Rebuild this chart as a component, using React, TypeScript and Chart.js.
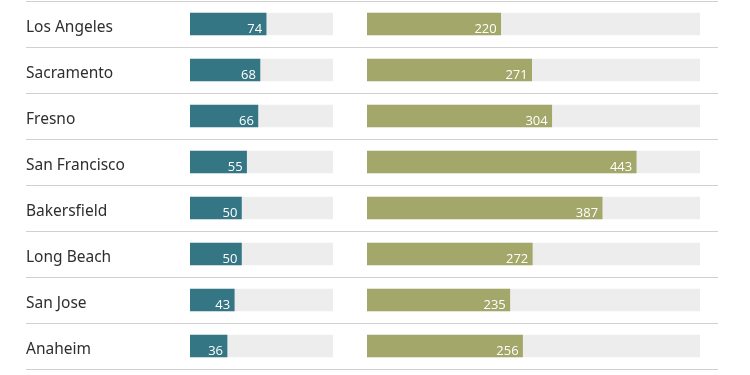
import React, { useEffect, useRef } from "react";
import { Chart, registerables } from "chart.js";

Chart.register(...registerables);

const cities = ["Los Angeles", "Sacramento", "Fresno", "San Francisco", "Bakersfield", "Long Beach", "San Jose", "Anaheim"];
const leftValues = [74, 68, 66, 55, 50, 50, 43, 36];
const rightValues = [220, 271, 304, 443, 387, 272, 235, 256];
const LEFT_MAX = 139;
const RIGHT_MAX = 548;

const TEAL = "#357685";
const OLIVE = "#a3a86a";
const TRACK = "#ededed";
const LINE = "#d0d0d0";

const valueLabels = (values: number[], font: string) => ({
  id: "valueLabels",
  afterDatasetsDraw(chart: any) {
    const ctx = chart.ctx;
    const meta = chart.getDatasetMeta(1);
    ctx.save();
    ctx.fillStyle = "#ffffff";
    ctx.font = font;
    ctx.textAlign = "right";
    ctx.textBaseline = "alphabetic";
    meta.data.forEach((bar: any, i: number) => {
      ctx.fillText(String(values[i]), bar.x - 4, bar.y + 8.5);
    });
    ctx.restore();
  },
});

function makeConfig(side: "left" | "right"): any {
  const isLeft = side === "left";
  const values = isLeft ? leftValues : rightValues;
  const max = isLeft ? LEFT_MAX : RIGHT_MAX;
  const color = isLeft ? TEAL : OLIVE;
  const track = cities.map(() => max);
  const gridCommon = { color: LINE, lineWidth: 1, offset: true, drawTicks: true };
  const fixWidth = (w: number) => (s: any) => {
    s.width = w;
    s.paddingTop = 0;
    s.paddingBottom = 0;
  };
  const scales: any = {
    x: { display: false, min: 0, max },
    y: {
      type: "category",
      position: isLeft ? "left" : "right",
      offset: true,
      border: { display: false },
      grid: { ...gridCommon, tickLength: isLeft ? 164 : 18 },
      ticks: {
        display: isLeft,
        crossAlign: "far",
        color: "#2e2e2e",
        padding: 0,
        font: { family: "'Noto Sans', sans-serif", size: 15.5, lineHeight: 0.5 },
        callback: (_v: any, i: number) => ["", cities[i]],
      },
      afterFit: fixWidth(isLeft ? 164 : 18),
    },
  };
  if (isLeft) {
    scales.y2 = {
      type: "category",
      labels: cities,
      position: "right",
      offset: true,
      border: { display: false },
      grid: { ...gridCommon, tickLength: 34, drawOnChartArea: false },
      ticks: { display: false },
      afterFit: fixWidth(34),
    };
  }
  return {
    type: "bar",
    data: {
      labels: cities,
      datasets: [
        { data: track, backgroundColor: TRACK, barThickness: 22, grouped: false, order: 2 },
        { data: values, backgroundColor: color, barThickness: 22, grouped: false, order: 1 },
      ],
    },
    options: {
      indexAxis: "y",
      responsive: false,
      animation: false,
      layout: { padding: { left: isLeft ? 26 : 0, right: isLeft ? 0 : 32, top: 1, bottom: 6 } },
      plugins: { legend: { display: false }, tooltip: { enabled: false } },
      scales,
    },
    plugins: [valueLabels(values, "13px 'Open Sans', sans-serif")],
  };
}

function BarPanel({ side, left, width }: { side: "left" | "right"; left: number; width: number }) {
  const ref = useRef<HTMLCanvasElement | null>(null);
  useEffect(() => {
    if (!ref.current) return;
    const chart = new Chart(ref.current, makeConfig(side));
    return () => chart.destroy();
  }, [side]);
  return (
    <canvas
      ref={ref}
      width={width}
      height={375}
      style={{ position: "absolute", left, top: 0, width, height: 375 }}
    />
  );
}

export default function App() {
  return (
    <div style={{ position: "fixed", left: 0, top: 0, width: 750, height: 375, background: "#ffffff" }}>
      <BarPanel side="left" left={0} width={367} />
      <BarPanel side="right" left={367} width={383} />
    </div>
  );
}
